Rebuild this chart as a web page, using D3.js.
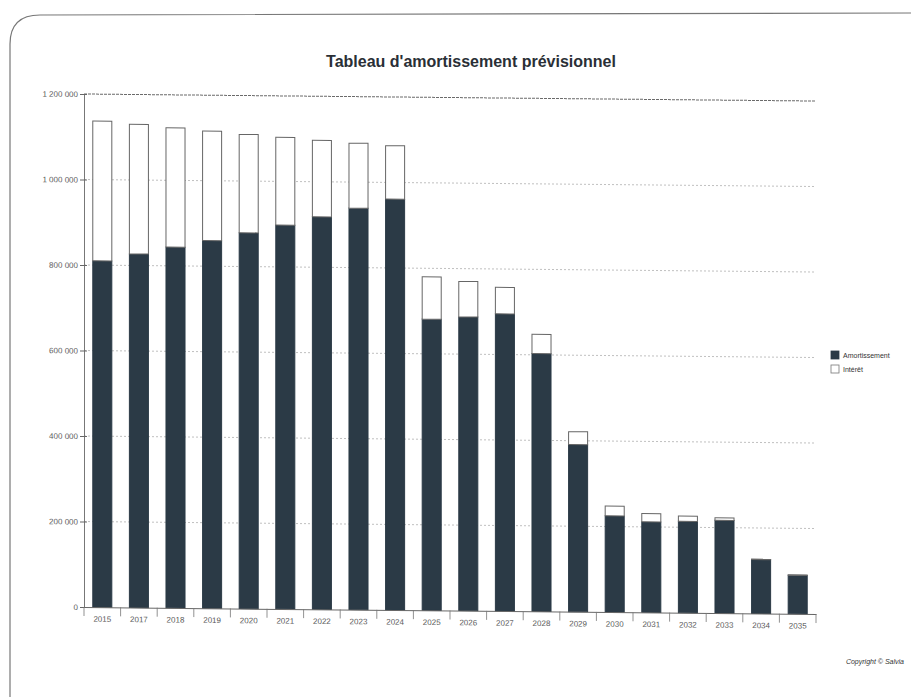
<!DOCTYPE html>
<html>
<head>
<meta charset="utf-8">
<script src="https://cdn.jsdelivr.net/npm/d3@7"></script>
<style>
  html, body { margin: 0; padding: 0; background: #ffffff; }
  svg { display: block; }
  text { font-family: "Liberation Sans", Arial, sans-serif; }
</style>
</head>
<body>
<svg id="chart" width="911" height="697"></svg>
<script>
// ---- Data ----
const years = ["2015","2017","2018","2019","2020","2021","2022","2023","2024","2025",
               "2026","2027","2028","2029","2030","2031","2032","2033","2034","2035"];
const amortissement = [810000, 827000, 844000, 860000, 879000, 898000, 918000, 939000, 961000, 681000,
                       687000, 695000, 603000, 391000, 225000, 212000, 214000, 217000, 126000, 90000];
const interet = [327000, 303000, 279000, 256000, 230000, 205000, 179000, 152000, 125000, 99000,
                 83000, 62000, 45000, 30000, 23000, 19000, 12000, 6000, 1000, 1000];
const yTicks = [0, 200000, 400000, 600000, 800000, 1000000, 1200000];
const seriesNames = ["Amortissement", "Intérêt"];
const seriesColors = ["#2b3a46", "#ffffff"];
const chartTitle = "Tableau d'amortissement prévisionnel";
const copyrightText = "Copyright © Salvia";

(function () {
// ---- Layout ----
const svg = d3.select("#chart");
const mLeft = 84, mRight = 816, mTop = 94, mBottom = 607;

const rows = years.map((yr, i) => ({ year: yr, Amortissement: amortissement[i], "Intérêt": interet[i] }));
const stack = d3.stack().keys(seriesNames)(rows);

const x = d3.scaleBand().domain(years).range([mLeft, mRight]).paddingInner(0.48).paddingOuter(0.24);
const y = d3.scaleLinear().domain([0, 1200000]).range([mBottom, mTop]);

const fr = d3.formatLocale({ decimal: ",", thousands: " ", grouping: [3], currency: ["", " €"] });
const fmt = fr.format(",");

// page frame (scanned sheet edge)
svg.append("path")
  .attr("d", "M10,697 L10,44 Q10,15 40,15 L911,13")
  .attr("fill", "none").attr("stroke", "#777").attr("stroke-width", 1.2);

// title
svg.append("text")
  .attr("x", 471).attr("y", 67)
  .attr("text-anchor", "middle")
  .attr("font-size", 16).attr("font-weight", "bold").attr("fill", "#2a2f36")
  .text(chartTitle);

// plot group (slight skew like the scanned sheet)
const g = svg.append("g").attr("transform", "translate(0,-0.8) skewY(0.55)");

// gridlines
g.append("g").selectAll("line")
  .data(yTicks.filter(d => d > 0))
  .join("line")
  .attr("x1", mLeft).attr("x2", mRight)
  .attr("y1", d => y(d)).attr("y2", d => y(d))
  .attr("stroke", d => d === 1200000 ? "#6a6a6a" : "#b0b0b0")
  .attr("stroke-width", d => d === 1200000 ? 1 : 0.8)
  .attr("stroke-dasharray", d => d === 1200000 ? "3,1" : "2,2");

// y axis
const yAxis = d3.axisLeft(y).tickValues(yTicks).tickFormat(fmt).tickSize(4).tickPadding(4);
const ya = g.append("g").attr("transform", `translate(${mLeft},0)`).call(yAxis);
ya.select(".domain").attr("stroke", "#777");
ya.selectAll(".tick line").attr("stroke", "#666").attr("x2", 3).attr("x1", -4);
ya.selectAll(".tick text").attr("font-size", 8).attr("fill", "#5a5a5a")
  .attr("font-family", "'Liberation Sans', Arial, sans-serif").attr("x", -6);

// bars
const layers = g.append("g").selectAll("g")
  .data(stack).join("g")
  .attr("fill", (d, i) => seriesColors[i]);
layers.selectAll("rect")
  .data(d => d.map(v => ({ v, key: d.key })))
  .join("rect")
  .attr("x", d => x(d.v.data.year))
  .attr("width", x.bandwidth())
  .attr("y", d => y(d.v[1]))
  .attr("height", d => Math.max(0, y(d.v[0]) - y(d.v[1])))
  .attr("stroke", d => d.key === "Intérêt" ? "#666" : "#2b3a46")
  .attr("stroke-width", 1);

// x axis
const xAxis = d3.axisBottom(x).tickSize(0).tickPadding(9);
const xa = g.append("g").attr("transform", `translate(0,${mBottom})`).call(xAxis);
xa.select(".domain").attr("stroke", "#666");
xa.selectAll(".tick text").attr("font-size", 8).attr("fill", "#5a5a5a")
  .attr("font-family", "'Liberation Sans', Arial, sans-serif");
// separators between categories
xa.append("g").selectAll("line")
  .data(years.concat(["__end"]))
  .join("line")
  .attr("x1", (d, i) => i < years.length ? x(d) - x.step() * x.paddingInner() / 2 : mRight)
  .attr("x2", (d, i) => i < years.length ? x(d) - x.step() * x.paddingInner() / 2 : mRight)
  .attr("y1", 0).attr("y2", 9)
  .attr("stroke", "#777").attr("stroke-width", 0.8);

// legend
const lg = svg.append("g").attr("transform", "translate(831,351)");
seriesNames.forEach((name, i) => {
  const row = lg.append("g").attr("transform", `translate(0,${i * 14})`);
  row.append("rect").attr("width", 8).attr("height", 8)
    .attr("fill", seriesColors[i]).attr("stroke", i === 0 ? "#2b3a46" : "#777").attr("stroke-width", 0.8);
  row.append("text").attr("x", 12).attr("y", 7).attr("font-size", 7).attr("fill", "#333").text(name);
});

// copyright
svg.append("text")
  .attr("x", 904).attr("y", 664).attr("text-anchor", "end")
  .attr("font-size", 7).attr("font-style", "italic").attr("fill", "#333")
  .text(copyrightText);
})();
</script>
</body>
</html>
